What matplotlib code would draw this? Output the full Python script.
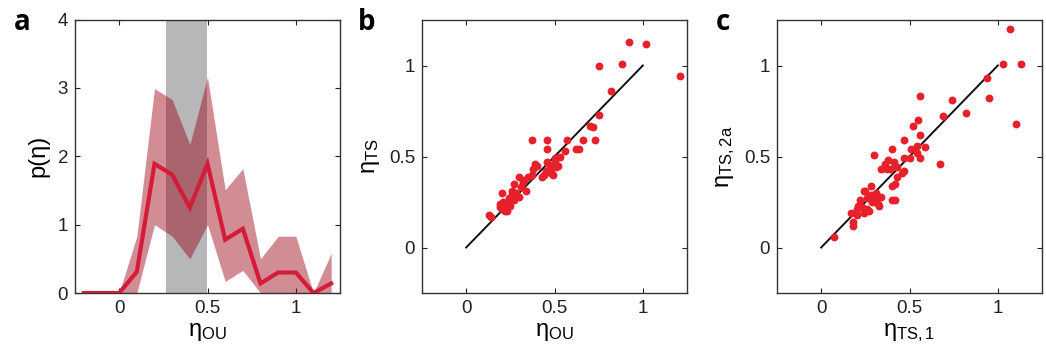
import matplotlib
matplotlib.use("Agg")
import matplotlib.pyplot as plt
import numpy as np

plt.rcParams['font.family'] = ['Liberation Sans', 'DejaVu Sans']
plt.rcParams['mathtext.fontset'] = 'custom'
plt.rcParams['mathtext.rm'] = 'Liberation Sans'
plt.rcParams['mathtext.it'] = 'Liberation Sans'

# ---- panel a data ----
eta_bins = [-0.2, -0.1, 0.0, 0.1, 0.2, 0.3, 0.4, 0.5, 0.6, 0.7, 0.8, 0.9, 1.0, 1.1, 1.2]
p_mean = [0, 0, 0, 0.31, 1.89, 1.73, 1.25, 1.89, 0.78, 0.94, 0.14, 0.30, 0.30, 0.0, 0.14]
p_upper = [0, 0, 0, 0.83, 2.99, 2.83, 2.17, 3.16, 1.51, 1.82, 0.50, 0.83, 0.83, 0.0, 0.58]
p_lower = [0, 0, 0, 0.0, 1.00, 0.83, 0.50, 1.00, 0.17, 0.33, 0.0, 0.0, 0.0, 0.0, 0.0]
band_lo, band_hi = 0.265, 0.5

# ---- panel b data ----
b_ou = [0.13, 0.14, 0.19, 0.20, 0.21, 0.22, 0.20, 0.23, 0.24, 0.25, 0.26, 0.26, 0.27, 0.28,
        0.29, 0.30, 0.31, 0.33, 0.34, 0.35, 0.37, 0.38, 0.40, 0.39, 0.37, 0.43, 0.44, 0.45,
        0.46, 0.46, 0.46, 0.47, 0.48, 0.49, 0.50, 0.50, 0.51, 0.52, 0.53, 0.56, 0.57, 0.62,
        0.64, 0.66, 0.70, 0.72, 0.73, 0.75, 0.82, 0.75, 0.88, 0.92, 1.02, 1.21, 0.23, 0.27,
        0.32, 0.22, 0.48, 0.30, 0.19, 0.25]
b_ts = [0.18, 0.17, 0.24, 0.21, 0.25, 0.20, 0.30, 0.22, 0.27, 0.25, 0.29, 0.31, 0.35, 0.30,
        0.28, 0.39, 0.33, 0.37, 0.31, 0.39, 0.40, 0.43, 0.45, 0.46, 0.59, 0.39, 0.40, 0.42,
        0.47, 0.54, 0.59, 0.43, 0.45, 0.40, 0.47, 0.49, 0.44, 0.45, 0.50, 0.53, 0.59, 0.54,
        0.54, 0.59, 0.67, 0.66, 0.59, 0.73, 0.86, 1.00, 1.01, 1.13, 1.12, 0.94, 0.20, 0.26,
        0.36, 0.23, 0.41, 0.28, 0.22, 0.23]

# ---- panel c data ----
c_ts1 = [0.07, 0.18, 0.18, 0.17, 0.20, 0.20, 0.21, 0.22, 0.23, 0.25, 0.26, 0.28, 0.29, 0.24,
         0.28, 0.31, 0.31, 0.34, 0.32, 0.31, 0.40, 0.42, 0.40, 0.42, 0.43, 0.39, 0.43, 0.47,
         0.46, 0.47, 0.34, 0.37, 0.38, 0.41, 0.42, 0.30, 0.40, 0.47, 0.50, 0.56, 0.51, 0.54,
         0.54, 0.59, 0.56, 0.52, 0.55, 0.56, 0.67, 0.69, 0.74, 0.82, 0.94, 0.95, 1.03, 1.07,
         1.13, 1.10, 0.26, 0.33, 0.36, 0.27, 0.24]
c_ts2a = [0.06, 0.12, 0.14, 0.19, 0.18, 0.21, 0.23, 0.26, 0.22, 0.31, 0.27, 0.34, 0.25, 0.31,
          0.29, 0.30, 0.25, 0.28, 0.24, 0.26, 0.26, 0.26, 0.34, 0.35, 0.39, 0.43, 0.44, 0.42,
          0.41, 0.49, 0.43, 0.43, 0.48, 0.47, 0.45, 0.51, 0.54, 0.59, 0.49, 0.49, 0.54, 0.52,
          0.56, 0.55, 0.62, 0.67, 0.70, 0.83, 0.46, 0.72, 0.81, 0.74, 0.93, 0.82, 1.01, 1.20,
          1.01, 0.68, 0.21, 0.23, 0.46, 0.20, 0.19]

RED_LINE = '#d41c3a'
BAND = (0.60, 0.0, 0.07)
GRAY = '#b7b7b9'
DOT = '#e8202a'

fig = plt.figure(figsize=(10.46, 3.58), dpi=100)
W, H = 1046, 358
def pos(l, r, t, b):
    return [l / W, 1 - b / H, (r - l) / W, (b - t) / H]

axa = fig.add_axes(pos(75, 340, 19.5, 293))
axb = fig.add_axes(pos(422, 687, 20, 293))
axc = fig.add_axes(pos(777, 1042, 20, 293))

TICK_FS = 13.5
LABEL_FS = 17

def style(ax):
    ax.tick_params(direction='in', top=True, right=True, length=3.5, width=0.8,
                   labelsize=TICK_FS, pad=5, colors='#222222', labelcolor='#222222')
    for s in ax.spines.values():
        s.set_linewidth(1.0)
        s.set_color('#333333')

# panel a
axa.axvspan(band_lo, band_hi, color=GRAY, lw=0, zorder=1)
axa.fill_between(eta_bins, p_lower, p_upper, color=BAND, alpha=0.45, lw=0, zorder=2)
axa.plot(eta_bins, p_mean, color=RED_LINE, lw=3.0, zorder=3, solid_joinstyle='miter')
axa.set_xlim(-0.25, 1.25)
axa.set_ylim(0, 4)
axa.set_xticks([0, 0.5, 1])
axa.set_xticklabels(['0', '0.5', '1'])
axa.set_yticks([0, 1, 2, 3, 4])
style(axa)
axa.set_xlabel(r'$\mathregular{η_{OU}}$', fontsize=LABEL_FS, labelpad=3)
axa.set_ylabel('p(η)', fontsize=LABEL_FS, labelpad=6)

# panel b
axb.plot([0, 1], [0, 1], color='#111111', lw=1.4, zorder=2)
axb.scatter(b_ou, b_ts, s=32, color=DOT, lw=0, zorder=3)
axb.set_xlim(-0.25, 1.25)
axb.set_ylim(-0.25, 1.25)
axb.set_xticks([0, 0.5, 1])
axb.set_xticklabels(['0', '0.5', '1'])
axb.set_yticks([0, 0.5, 1])
axb.set_yticklabels(['0', '0.5', '1'])
style(axb)
axb.set_xlabel(r'$\mathregular{η_{OU}}$', fontsize=LABEL_FS, labelpad=3)
axb.set_ylabel(r'$\mathregular{η_{TS}}$', fontsize=LABEL_FS, labelpad=5)

# panel c
axc.plot([0, 1], [0, 1], color='#111111', lw=1.4, zorder=2)
axc.scatter(c_ts1, c_ts2a, s=32, color=DOT, lw=0, zorder=3)
axc.set_xlim(-0.25, 1.25)
axc.set_ylim(-0.25, 1.25)
axc.set_xticks([0, 0.5, 1])
axc.set_xticklabels(['0', '0.5', '1'])
axc.set_yticks([0, 0.5, 1])
axc.set_yticklabels(['0', '0.5', '1'])
style(axc)
axc.set_xlabel(r'$\mathregular{η_{TS,1}}$', fontsize=LABEL_FS, labelpad=3)
axc.set_ylabel(r'$\mathregular{η_{TS,2a}}$', fontsize=LABEL_FS, labelpad=5)

# panel letters
for x, lab in [(14, 'a'), (358, 'b'), (716, 'c')]:
    fig.text(x / W, 1 - 30 / H, lab, fontsize=20, fontweight='bold',
             family=['Open Sans', 'DejaVu Sans'], ha='left', va='baseline')

fig.savefig('out.png', dpi=100)
